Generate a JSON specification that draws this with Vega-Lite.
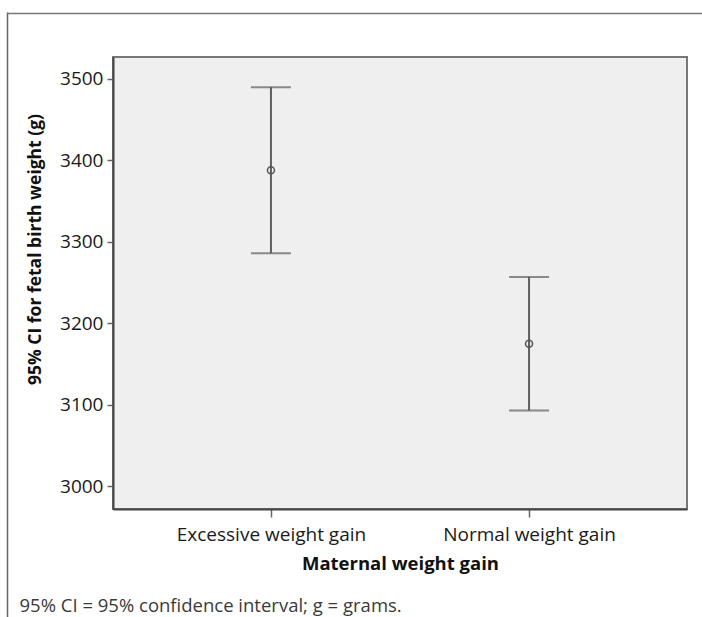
{
  "$schema": "https://vega.github.io/schema/vega-lite/v6.json",
  "width": 574,
  "height": 452,
  "autosize": {"type": "none"},
  "padding": {"left": 113, "top": 57, "right": 15, "bottom": 108},
  "background": "white",
  "data": {
    "values": [
      {"group": "Excessive weight gain", "mean": 3388, "lower": 3286, "upper": 3490},
      {"group": "Normal weight gain", "mean": 3175, "lower": 3093, "upper": 3257}
    ]
  },
  "config": {
    "font": "Open Sans",
    "view": {"fill": "#efefef", "stroke": "#777777", "strokeWidth": 2}
  },
  "layer": [
    {
      "encoding": {
        "x": {
          "field": "group",
          "type": "nominal",
          "scale": {"type": "point", "padding": 0.612},
          "title": "Maternal weight gain",
          "axis": {
            "orient": "bottom",
            "labelAngle": 0,
            "labelLimit": 0,
            "labelFont": "Open Sans",
            "labelFontSize": 19,
            "labelColor": "#1a1a1a",
            "labelBaseline": "alphabetic",
            "labelPadding": 23,
            "tickSize": 8,
            "tickColor": "#666666",
            "tickWidth": 1.5,
            "domainColor": "#444444",
            "domainWidth": 2,
            "grid": false,
            "titleFont": "Open Sans",
            "titleFontSize": 18.5,
            "titleFontWeight": "bold",
            "titleColor": "#111111",
            "titleBaseline": "alphabetic",
            "titleY": 60
          }
        }
      },
      "layer": [
        {
          "mark": {"type": "rule", "color": "#5e5e5e", "strokeWidth": 2},
          "encoding": {
            "y": {
              "field": "lower",
              "type": "quantitative",
              "scale": {"domain": [2972, 3527], "nice": false, "zero": false},
              "title": "95% CI for fetal birth weight (g)",
              "axis": {
                "orient": "left",
                "values": [3000, 3100, 3200, 3300, 3400, 3500],
                "format": "d",
                "labelFont": "Open Sans",
                "labelFontSize": 19,
                "labelColor": "#1a1a1a",
                "labelPadding": 4,
                "tickSize": 6,
                "tickColor": "#666666",
                "tickWidth": 1.5,
                "domainColor": "#444444",
                "domainWidth": 2,
                "grid": false,
                "titleFont": "Open Sans",
                "titleFontSize": 17.5,
                "titleFontWeight": "bold",
                "titleColor": "#111111",
                "titleAngle": -90,
                "titleAlign": "center",
                "titleBaseline": "alphabetic",
                "titleX": -73,
                "titleY": 192
              }
            },
            "y2": {"field": "upper"}
          }
        },
        {
          "mark": {"type": "tick", "color": "#5e5e5e", "thickness": 2, "size": 40},
          "encoding": {
            "y": {"field": "upper", "type": "quantitative", "title": "95% CI for fetal birth weight (g)"}
          }
        },
        {
          "mark": {"type": "tick", "color": "#5e5e5e", "thickness": 2, "size": 40},
          "encoding": {
            "y": {"field": "lower", "type": "quantitative", "title": "95% CI for fetal birth weight (g)"}
          }
        },
        {
          "mark": {"type": "point", "shape": "circle", "filled": false, "size": 49, "strokeWidth": 1.5, "color": "#555555", "opacity": 1},
          "encoding": {
            "y": {"field": "mean", "type": "quantitative", "title": "95% CI for fetal birth weight (g)"}
          }
        }
      ]
    },
    {
      "data": {"values": [{"fx": 0, "fy": 1}]},
      "mark": {"type": "point", "opacity": 0},
      "encoding": {
        "x": {
          "field": "fx",
          "type": "quantitative",
          "scale": {"domain": [0, 1], "range": [-106, 574], "nice": false, "zero": false},
          "title": "95% CI = 95% confidence interval; g = grams.",
          "axis": {
            "orient": "top",
            "offset": -565,
            "values": [0],
            "tickSize": 610,
            "tickColor": "#666666",
            "tickWidth": 1.5,
            "labels": false,
            "domain": false,
            "grid": false,
            "titleFont": "Open Sans",
            "titleFontSize": 18.5,
            "titleFontWeight": "normal",
            "titleColor": "#3a3a3a",
            "titleAlign": "left",
            "titleAnchor": "start",
            "titleBaseline": "alphabetic",
            "titleAngle": 0,
            "titleX": -94,
            "titleY": -11
          }
        },
        "y": {
          "field": "fy",
          "type": "quantitative",
          "scale": {"domain": [0, 1], "range": [452, -44], "nice": false, "zero": false},
          "axis": {
            "orient": "left",
            "offset": -600,
            "values": [1],
            "tickSize": 706,
            "tickColor": "#777777",
            "tickWidth": 1.5,
            "labels": false,
            "domain": false,
            "grid": false,
            "title": null
          }
        }
      }
    }
  ],
  "resolve": {
    "scale": {"x": "independent", "y": "independent"},
    "axis": {"x": "independent", "y": "independent"}
  }
}
